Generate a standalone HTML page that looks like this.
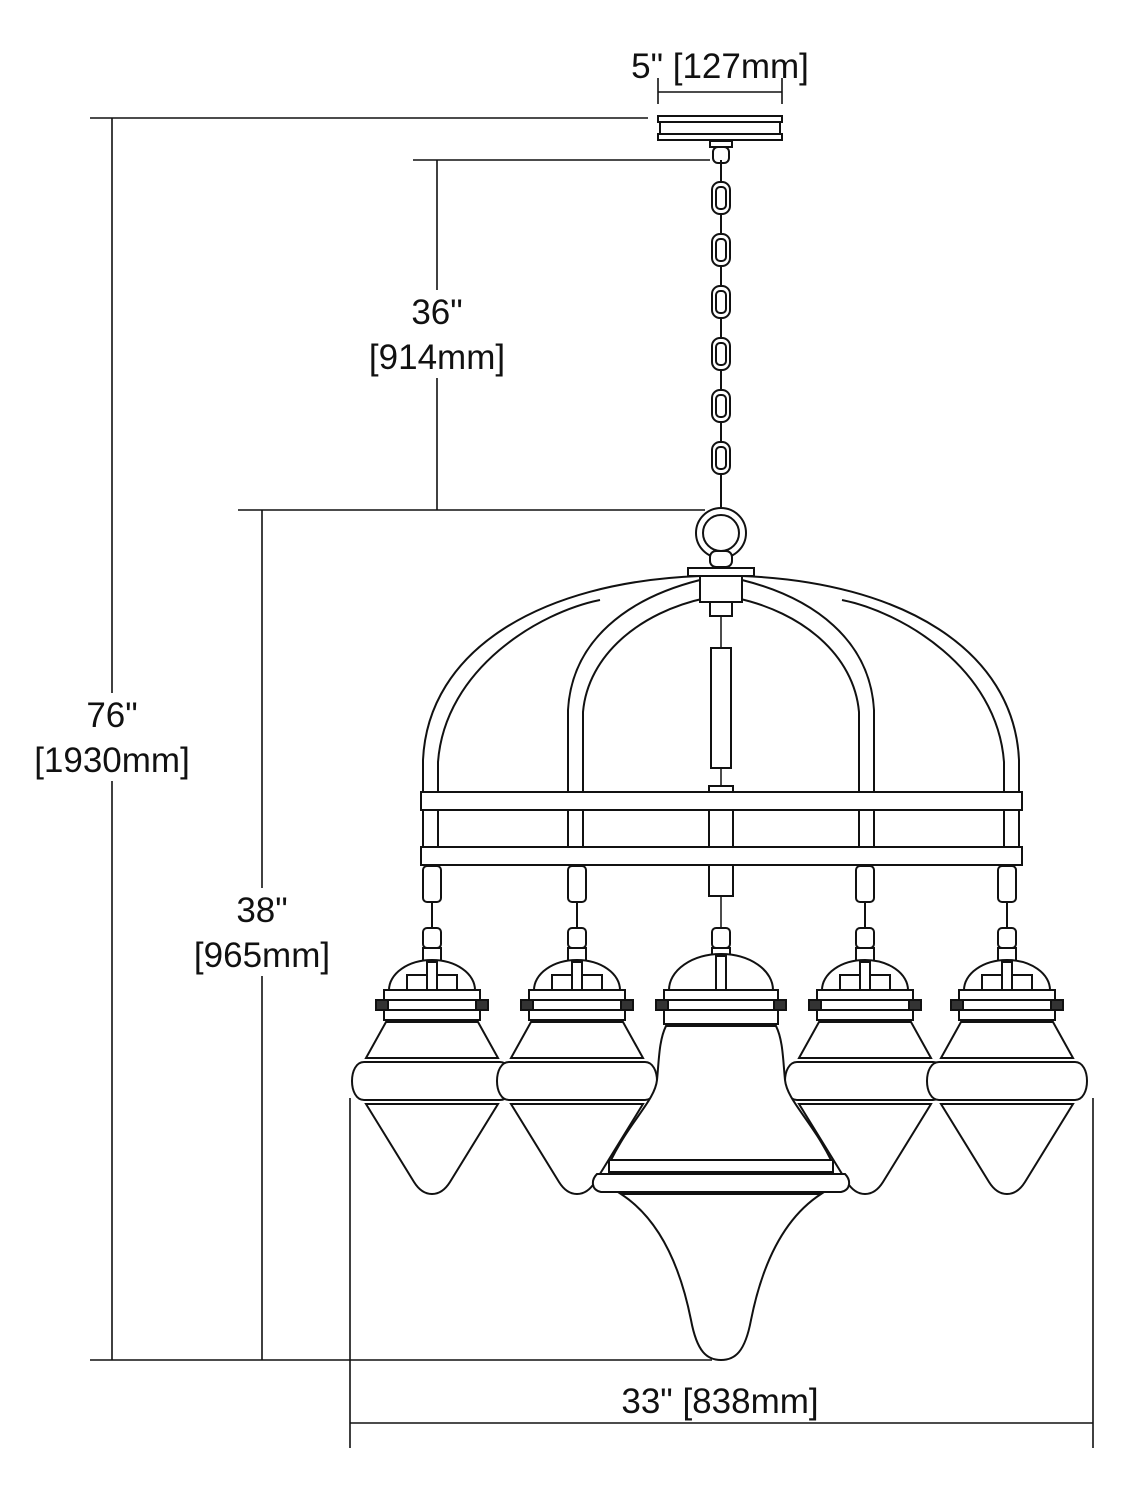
<!DOCTYPE html>
<html><head><meta charset="utf-8"><style>
html,body{margin:0;padding:0;background:#fff;}
svg{display:block}
text{font-family:"Liberation Sans",sans-serif;font-size:35px;fill:#111;text-anchor:middle}
</style></head><body>
<svg width="1125" height="1500" viewBox="0 0 1125 1500" xmlns="http://www.w3.org/2000/svg">
<g fill="none" stroke="#111" stroke-width="1.6">
<line x1="90" y1="118" x2="648" y2="118"/>
<line x1="112" y1="118" x2="112" y2="1360"/>
<line x1="90" y1="1360" x2="712" y2="1360"/>
<line x1="238" y1="510" x2="705" y2="510"/>
<line x1="262" y1="510" x2="262" y2="1360"/>
<line x1="413" y1="160" x2="710" y2="160"/>
<line x1="437" y1="160" x2="437" y2="510"/>
<line x1="350" y1="1098" x2="350" y2="1448"/>
<line x1="1093" y1="1098" x2="1093" y2="1448"/>
<line x1="350" y1="1423" x2="1093" y2="1423"/>
<line x1="658" y1="78" x2="658" y2="104"/>
<line x1="782" y1="78" x2="782" y2="104"/>
<line x1="658" y1="92" x2="782" y2="92"/>
</g>
<g fill="#fff">
<rect x="365" y="290" width="145" height="88"/>
<rect x="30" y="693" width="165" height="88"/>
<rect x="185" y="888" width="150" height="88"/>
</g>
<text x="720" y="78">5" [127mm]</text>
<text x="437" y="324">36"</text>
<text x="437" y="369">[914mm]</text>
<text x="112" y="727">76"</text>
<text x="112" y="772">[1930mm]</text>
<text x="262" y="922">38"</text>
<text x="262" y="967">[965mm]</text>
<text x="720" y="1413">33" [838mm]</text>

<g fill="#fff" stroke="#111" stroke-width="2">
<rect x="658" y="116" width="124" height="6"/>
<rect x="660" y="122" width="120" height="12"/>
<rect x="658" y="134" width="124" height="6"/>
<rect x="710" y="141" width="22" height="6"/>
<rect x="713" y="147" width="16" height="16" rx="5"/>
<line x1="721" y1="160" x2="721" y2="510"/>
<g>
<rect x="712" y="182" width="18" height="32" rx="8"/><rect x="716" y="187" width="10" height="22" rx="4"/>
<rect x="712" y="234" width="18" height="32" rx="8"/><rect x="716" y="239" width="10" height="22" rx="4"/>
<rect x="712" y="286" width="18" height="32" rx="8"/><rect x="716" y="291" width="10" height="22" rx="4"/>
<rect x="712" y="338" width="18" height="32" rx="8"/><rect x="716" y="343" width="10" height="22" rx="4"/>
<rect x="712" y="390" width="18" height="32" rx="8"/><rect x="716" y="395" width="10" height="22" rx="4"/>
<rect x="712" y="442" width="18" height="32" rx="8"/><rect x="716" y="447" width="10" height="22" rx="4"/>
</g>
<line x1="721" y1="474" x2="721" y2="505"/>
<circle cx="721" cy="533" r="25"/><circle cx="721" cy="533" r="18"/>
<rect x="710" y="551" width="22" height="16" rx="6"/>
</g>

<g fill="none" stroke="#111" stroke-width="2">
<g id="half">
<path d="M423,795 L423,760 C428,650 540,582 700,576"/>
<path d="M438,795 L438,762 C445,668 540,612 600,600"/>
<path d="M568,795 L568,710 C572,640 628,598 700,580"/>
<path d="M583,795 L583,712 C588,655 640,612 706,598"/>
<line x1="423" y1="810" x2="423" y2="848"/><line x1="438" y1="810" x2="438" y2="848"/>
<line x1="568" y1="810" x2="568" y2="848"/><line x1="583" y1="810" x2="583" y2="848"/>
</g>
<use href="#half" transform="translate(1442,0) scale(-1,1)"/>
</g>
<g fill="#fff" stroke="#111" stroke-width="2">
<rect x="688" y="568" width="66" height="8"/>
<rect x="700" y="576" width="42" height="26"/>
<rect x="710" y="602" width="22" height="14"/>
<rect x="711" y="648" width="20" height="120"/>
<rect x="709" y="786" width="24" height="110"/>
<rect x="421" y="792" width="601" height="18"/>
<rect x="421" y="847" width="601" height="18"/>
</g>
<g fill="none" stroke="#111" stroke-width="1.5">
<line x1="721" y1="616" x2="721" y2="648"/>
<line x1="721" y1="768" x2="721" y2="786"/>
<line x1="721" y1="896" x2="721" y2="935"/>
</g>

<defs>
<g id="sp" fill="#fff" stroke="#111" stroke-width="2">
<rect x="-9" y="866" width="18" height="36" rx="4"/>
<line x1="0" y1="902" x2="0" y2="930"/>
<rect x="-9" y="928" width="18" height="20" rx="4"/>
<rect x="-9" y="948" width="18" height="14"/>
<path d="M-43,990 A43,30 0 0 1 43,990 Z"/>
<rect x="-25" y="975" width="50" height="15"/>
<rect x="-5" y="962" width="10" height="28"/>
<rect x="-48" y="990" width="96" height="10"/>
<rect x="-48" y="1000" width="96" height="10"/>
<rect x="-56" y="1000" width="12" height="10" fill="#333"/>
<rect x="44" y="1000" width="12" height="10" fill="#333"/>
<rect x="-48" y="1010" width="96" height="10"/>
<path d="M-46,1022 L-66,1058 L66,1058 L46,1022 Z"/>
<path d="M-68,1062 C-84,1062 -84,1100 -68,1100 L68,1100 C84,1100 84,1062 68,1062 Z"/>
<path d="M-66,1104 L-18,1182 C-8,1198 8,1198 18,1182 L66,1104 Z"/>
<line x1="-66" y1="1058" x2="66" y2="1058"/>
<line x1="-66" y1="1104" x2="66" y2="1104"/>
</g>
</defs>
<use href="#sp" transform="translate(432,0)"/>
<use href="#sp" transform="translate(577,0)"/>
<use href="#sp" transform="translate(865,0)"/>
<use href="#sp" transform="translate(1007,0)"/>

<g fill="#fff" stroke="#111" stroke-width="2" transform="translate(721,0)">
<rect x="-9" y="928" width="18" height="20" rx="4"/>
<rect x="-9" y="948" width="18" height="14"/>
<path d="M-52,990 A52,36 0 0 1 52,990 Z"/>
<rect x="-5" y="956" width="10" height="34"/>
<rect x="-57" y="990" width="114" height="10"/>
<rect x="-57" y="1000" width="114" height="10"/>
<rect x="-65" y="1000" width="12" height="10" fill="#333"/>
<rect x="53" y="1000" width="12" height="10" fill="#333"/>
<rect x="-57" y="1010" width="114" height="14"/>
<path d="M-55,1026 C-62,1040 -62,1060 -64,1080 C-66,1100 -90,1120 -110,1160 L110,1160 C90,1120 66,1100 64,1080 C62,1060 62,1040 55,1026 Z"/>
<rect x="-112" y="1160" width="224" height="12"/>
<path d="M-124,1174 C-130,1180 -130,1190 -120,1192 L120,1192 C130,1190 130,1180 124,1174 Z"/>
<path d="M-100,1194 C-60,1220 -40,1270 -30,1320 C-24,1352 -14,1360 0,1360 C14,1360 24,1352 30,1320 C40,1270 60,1220 100,1194 Z"/>
</g>
</svg>
</body></html>
